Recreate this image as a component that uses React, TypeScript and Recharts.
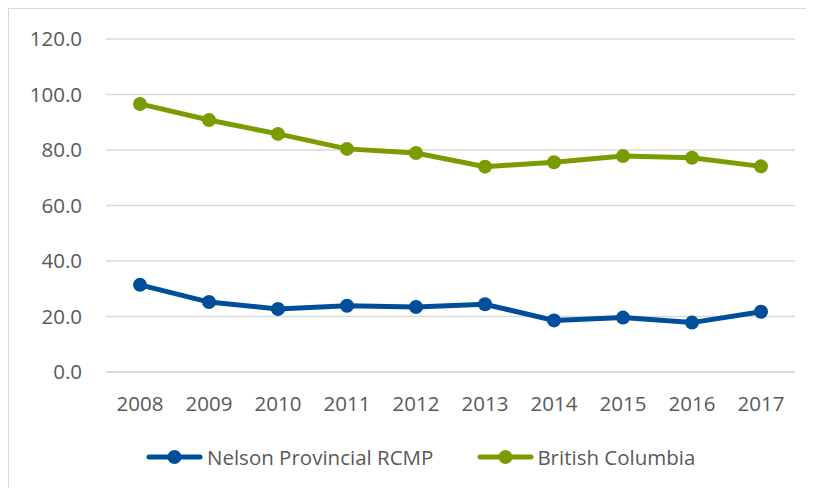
import React from "react";
import { LineChart, Line, XAxis, YAxis, CartesianGrid, Legend } from "recharts";

const years = ["2008", "2009", "2010", "2011", "2012", "2013", "2014", "2015", "2016", "2017"];
const nelson = [31.4, 25.2, 22.7, 23.9, 23.4, 24.4, 18.6, 19.6, 17.8, 21.7];
const bc = [96.6, 90.8, 85.8, 80.4, 78.9, 74.0, 75.6, 77.8, 77.2, 74.1];
const yTicks = [0, 20, 40, 60, 80, 100, 120];

const seriesNames = ["Nelson Provincial RCMP", "British Columbia"];
const BLUE = "#004E9A";
const GREEN = "#7B9C00";
const TEXT = "#595959";
const GRID = "#D9D9D9";
const FONT = "'Open Sans', sans-serif";

const data = years.map((y, i) => ({ year: y, nelson: nelson[i], bc: bc[i] }));

const LegendIcon = ({ color }: { color: string }) => (
  <svg width={57} height={16} style={{ display: "block" }}>
    <line x1={3} y1={8} x2={54} y2={8} stroke={color} strokeWidth={5} strokeLinecap="round" />
    <circle cx={28.5} cy={8} r={7} fill={color} />
  </svg>
);

const CustomLegend = () => (
  <div
    style={{
      display: "flex",
      alignItems: "center",
      height: 30,
      fontFamily: FONT,
      fontSize: 20.5,
      color: TEXT,
      whiteSpace: "nowrap",
    }}
  >
    <LegendIcon color={BLUE} />
    <span style={{ marginLeft: 4 }}>{seriesNames[0]}</span>
    <span style={{ width: 44 }} />
    <LegendIcon color={GREEN} />
    <span style={{ marginLeft: 3 }}>{seriesNames[1]}</span>
  </div>
);

export default function App() {
  return (
    <div
      style={{
        position: "relative",
        width: 805,
        height: 480,
        borderTop: `1px solid ${GRID}`,
        borderLeft: `1px solid ${GRID}`,
        background: "#fff",
        overflow: "hidden",
      }}
    >
      <LineChart
        width={805}
        height={480}
        data={data}
        margin={{ top: 30, right: 19, left: 0, bottom: 10 }}
      >
        <CartesianGrid vertical={false} stroke={GRID} strokeWidth={1.3} />
        <XAxis
          dataKey="year"
          height={77}
          padding={{ left: 34, right: 34 }}
          axisLine={{ stroke: GRID, strokeWidth: 1.3 }}
          tickLine={false}
          tickSize={0}
          tickMargin={24}
          tick={{ fill: TEXT, fontSize: 20.5, fontFamily: FONT }}
          interval={0}
        />
        <YAxis
          width={97}
          domain={[0, 120]}
          ticks={yTicks}
          axisLine={false}
          tickLine={false}
          tickSize={0}
          tickMargin={24}
          tickFormatter={(v: number) => v.toFixed(1)}
          tick={{ fill: TEXT, fontSize: 20.5, fontFamily: FONT }}
        />
        <Legend
          verticalAlign="bottom"
          height={30}
          content={() => <CustomLegend />}
          wrapperStyle={{ top: 433, left: 137, width: 600 }}
        />
        <Line
          type="linear"
          dataKey="nelson"
          name={seriesNames[0]}
          stroke={BLUE}
          strokeWidth={5}
          dot={{ r: 7, fill: BLUE, stroke: "none" }}
          activeDot={false}
          isAnimationActive={false}
        />
        <Line
          type="linear"
          dataKey="bc"
          name={seriesNames[1]}
          stroke={GREEN}
          strokeWidth={5}
          dot={{ r: 7, fill: GREEN, stroke: "none" }}
          activeDot={false}
          isAnimationActive={false}
        />
      </LineChart>
    </div>
  );
}
